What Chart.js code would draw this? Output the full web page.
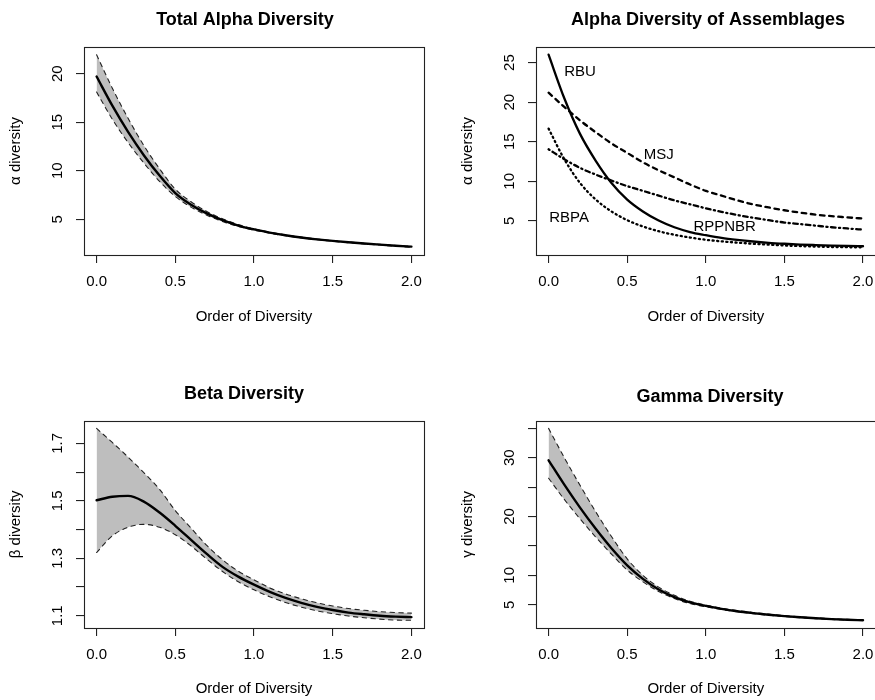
<!DOCTYPE html>
<html>
<head>
<meta charset="utf-8">
<script src="https://cdn.jsdelivr.net/npm/chart.js@4.4.1/dist/chart.umd.min.js"></script>
<style>
html,body{margin:0;padding:0;background:#fff;width:875px;height:700px;overflow:hidden;position:relative}
canvas{position:absolute;display:block}
</style>
</head>
<body>
<canvas id="c1" width="490" height="340" style="left:0px;top:0px"></canvas>
<canvas id="c2" width="536" height="340" style="left:440px;top:0px"></canvas>
<canvas id="c3" width="488" height="350" style="left:0px;top:350px"></canvas>
<canvas id="c4" width="540" height="350" style="left:440px;top:350px"></canvas>
<script>
// ---------- data ----------
const orderQ = [0.0,0.1,0.2,0.3,0.4,0.5,0.6,0.7,0.8,0.9,1.0,1.1,1.2,1.3,1.4,1.5,1.6,1.7,1.8,1.9,2.0];
const xTickValues = [0, 0.5, 1, 1.5, 2];
const xTickLabels = ['0.0','0.5','1.0','1.5','2.0'];

// Total alpha diversity
const alphaTotal      = [19.7,16.7,14.0,11.6,9.5,7.7,6.5,5.6,4.9,4.35,3.95,3.62,3.35,3.12,2.93,2.77,2.63,2.5,2.38,2.27,2.18];
const alphaTotalUpper = [21.95,18.5,15.4,12.6,10.2,8.1,6.8,5.8,5.05,4.45,4.02,3.68,3.4,3.16,2.97,2.8,2.66,2.53,2.41,2.3,2.22];
const alphaTotalLower = [18.1,15.3,12.9,10.8,8.9,7.35,6.25,5.42,4.77,4.26,3.88,3.56,3.3,3.08,2.89,2.73,2.59,2.46,2.34,2.22,2.11];
const alphaYTicks = [5,10,15,20];
const alphaYTickLabels = ['5','10','15','20'];

// Alpha diversity of assemblages
const assemblageNames = ['RBU','MSJ','RPPNBR','RBPA'];
const alphaRBU    = [26.0,20.5,16.0,12.6,9.8,7.7,6.2,5.05,4.2,3.6,3.2,2.85,2.6,2.4,2.24,2.12,2.02,1.95,1.89,1.84,1.8];
const alphaMSJ    = [21.2,19.4,17.7,16.2,14.8,13.6,12.4,11.4,10.5,9.6,8.8,8.2,7.6,7.1,6.7,6.35,6.05,5.8,5.6,5.45,5.3];
const alphaRPPNBR = [14.05,12.8,11.7,10.85,10.1,9.4,8.8,8.2,7.6,7.1,6.6,6.15,5.75,5.4,5.1,4.8,4.6,4.4,4.2,4.05,3.9];
const alphaRBPA   = [16.66,12.8,9.8,7.7,6.2,5.1,4.3,3.7,3.25,2.9,2.62,2.42,2.26,2.12,2.0,1.9,1.82,1.76,1.71,1.68,1.67];
const assemblageLabelX = [0.2, 0.7, 1.12, 0.13];
const assemblageLabelY = [23.8, 13.4, 4.3, 5.4];
const assemblageYTicks = [5,10,15,20,25];
const assemblageYTickLabels = ['5','10','15','20','25'];

// Beta diversity
const betaMain  = [1.502,1.514,1.517,1.497,1.459,1.413,1.364,1.315,1.27,1.236,1.208,1.183,1.162,1.145,1.131,1.12,1.111,1.105,1.1,1.097,1.095];
const betaUpper = [1.752,1.703,1.652,1.598,1.54,1.466,1.405,1.345,1.295,1.255,1.225,1.197,1.176,1.159,1.145,1.134,1.125,1.119,1.114,1.111,1.109];
const betaLower = [1.32,1.378,1.408,1.418,1.408,1.382,1.343,1.297,1.254,1.218,1.19,1.166,1.146,1.13,1.117,1.107,1.099,1.093,1.088,1.085,1.084];
const betaYTicks = [1.1,1.2,1.3,1.4,1.5,1.6,1.7];
const betaYTickLabels = ['1.1','','1.3','','1.5','','1.7'];

// Gamma diversity
const gammaMain  = [29.55,25.4,21.5,17.9,14.6,11.7,9.4,7.6,6.3,5.4,4.8,4.3,3.9,3.58,3.3,3.07,2.87,2.7,2.56,2.45,2.36];
const gammaUpper = [34.97,30.0,25.3,20.8,16.6,12.8,10.0,8.0,6.6,5.6,4.95,4.43,4.02,3.69,3.4,3.16,2.95,2.78,2.63,2.51,2.42];
const gammaLower = [26.5,22.9,19.6,16.5,13.6,10.9,8.9,7.25,6.05,5.2,4.65,4.18,3.8,3.48,3.21,2.99,2.8,2.64,2.5,2.4,2.355];
const gammaYTicks = [5,10,15,20,25,30,35];
const gammaYTickLabels = ['5','10','','20','','30',''];

// ---------- helpers ----------
const FONT = "'Liberation Sans', Arial, Helvetica, sans-serif";
Chart.defaults.font.family = FONT;
Chart.defaults.color = '#000';

function pts(ys){ return orderQ.map((q,i)=>({x:q, y:ys[i]})); }
function rRange(arrs){
  const all = [].concat(...arrs);
  const lo = Math.min(...all), hi = Math.max(...all);
  const e = 0.04*(hi-lo);
  return [lo-e, hi+e];
}
const BAND = '#bebebe';

function mainDs(ys){ return {data:pts(ys), borderColor:'#000', borderWidth:2.4, pointRadius:0, fill:false, cubicInterpolationMode:'monotone', borderCapStyle:'round', borderJoinStyle:'round'}; }
function bandUpper(ys){ return {data:pts(ys), borderColor:'#222', borderWidth:1.1, borderDash:[4.4,4.4], borderCapStyle:'round', pointRadius:0, fill:'+1', backgroundColor:BAND, cubicInterpolationMode:'monotone'}; }
function bandLower(ys){ return {data:pts(ys), borderColor:'#222', borderWidth:1.1, borderDash:[4.4,4.4], borderCapStyle:'round', pointRadius:0, fill:false, cubicInterpolationMode:'monotone'}; }

const boxPlugin = {
  id:'rbox',
  afterDatasetsDraw(chart){
    const a = chart.chartArea, ctx = chart.ctx;
    ctx.save();
    ctx.strokeStyle = '#222'; ctx.lineWidth = 1.1;
    const l = Math.round(a.left)+0.5, t = Math.round(a.top)+0.5;
    ctx.strokeRect(l, t, Math.round(a.right)-Math.round(a.left), Math.round(a.bottom)-Math.round(a.top));
    ctx.restore();
  }
};

function makeLabelPlugin(names, xs, ys){
  return {
    id:'curveLabels',
    afterDatasetsDraw(chart){
      const ctx = chart.ctx, sx = chart.scales.x, sy = chart.scales.y;
      ctx.save();
      ctx.font = '15px ' + FONT;
      ctx.fillStyle = '#000'; ctx.textAlign = 'center'; ctx.textBaseline = 'middle';
      names.forEach((n,i)=>ctx.fillText(n, sx.getPixelForValue(xs[i]), sy.getPixelForValue(ys[i])));
      ctx.restore();
    }
  };
}

function makePanel(g){
  const yr = rRange(g.rangeArrays);
  const plugins = [boxPlugin];
  if (g.extraPlugin) plugins.push(g.extraPlugin);
  return new Chart(document.getElementById(g.id), {
    type:'line',
    data:{datasets:g.datasets},
    plugins:plugins,
    options:{
      responsive:false, animation:false, events:[],
      layout:{padding:0},
      plugins:{
        legend:{display:false}, tooltip:{enabled:false},
        filler:{drawTime:'beforeDatasetsDraw'},
        title:{display:true, text:g.title, color:'#000', font:{size:18, weight:'bold', family:FONT}, padding:g.titlePad}
      },
      scales:{
        x:{
          type:'linear', min:-0.08, max:2.08,
          afterBuildTicks:(s)=>{ s.ticks = xTickValues.map(v=>({value:v})); },
          afterFit:(s)=>{ s.height = g.xAxisHeight; },
          ticks:{autoSkip:false, maxRotation:0, minRotation:0, padding:9.5, font:{size:15}, color:'#000',
                 callback:(v,i)=>xTickLabels[i]},
          grid:{display:true, drawOnChartArea:false, drawTicks:true, tickLength:8, color:'#222', lineWidth:1.1},
          border:{display:false},
          title:{display:true, text:'Order of Diversity', font:{size:15}, color:'#000', padding:{top:0,bottom:g.xTitlePadBottom}}
        },
        y:{
          type:'linear', min:yr[0], max:yr[1],
          afterBuildTicks:(s)=>{ s.ticks = g.yTicks.map(v=>({value:v})); },
          afterFit:(s)=>{ s.width = g.yAxisWidth; },
          ticks:{autoSkip:false, minRotation:90, maxRotation:90, crossAlign:'center', padding:g.yTickPad, font:{size:15}, color:'#000',
                 callback:(v,i)=>g.yTickLabels[i]},
          grid:{display:true, drawOnChartArea:false, drawTicks:true, tickLength:8, color:'#222', lineWidth:1.1},
          border:{display:false},
          title:{display:true, text:g.yTitle, font:{size:15}, color:'#000', padding:{top:g.yTitlePadTop,bottom:0}}
        },
        // empty right margin of the figure cell
        margin:{
          type:'linear', position:'right', display:true, min:0, max:1,
          afterFit:(s)=>{ s.width = g.padRight; },
          ticks:{display:false}, grid:{display:false, drawTicks:false}, border:{display:false}, title:{display:false}
        }
      }
    }
  });
}

// ---------- panels ----------
makePanel({
  id:'c1', title:'Total Alpha Diversity', yTitle:'\u03B1 diversity',
  datasets:[mainDs(alphaTotal), bandUpper(alphaTotalUpper), bandLower(alphaTotalLower)],
  rangeArrays:[alphaTotal, alphaTotalUpper, alphaTotalLower],
  yTicks:alphaYTicks, yTickLabels:alphaYTickLabels,
  padRight:66, yAxisWidth:84, xAxisHeight:85,
  titlePad:{top:9.2,bottom:16.2}, yTitlePadTop:7.3, yTickPad:9.9, xTitlePadBottom:14
});

makePanel({
  id:'c2', title:'Alpha Diversity of Assemblages', yTitle:'\u03B1 diversity',
  datasets:[
    {data:pts(alphaRBU), borderColor:'#000', borderWidth:2.3, pointRadius:0, fill:false, cubicInterpolationMode:'monotone', borderCapStyle:'round'},
    {data:pts(alphaMSJ), borderColor:'#000', borderWidth:2.3, borderDash:[4.6,4.6], pointRadius:0, fill:false, cubicInterpolationMode:'monotone', borderCapStyle:'round'},
    {data:pts(alphaRPPNBR), borderColor:'#000', borderWidth:2.3, borderDash:[1.15,3.45,4.6,3.45], pointRadius:0, fill:false, cubicInterpolationMode:'monotone', borderCapStyle:'round'},
    {data:pts(alphaRBPA), borderColor:'#000', borderWidth:2.3, borderDash:[1.15,3.45], pointRadius:0, fill:false, cubicInterpolationMode:'monotone', borderCapStyle:'round'}
  ],
  rangeArrays:[alphaRBU, alphaMSJ, alphaRPPNBR, alphaRBPA],
  yTicks:assemblageYTicks, yTickLabels:assemblageYTickLabels,
  padRight:100.4, yAxisWidth:96, xAxisHeight:85,
  titlePad:{top:9.2,bottom:16.2}, yTitlePadTop:19, yTickPad:9.9, xTitlePadBottom:14,
  extraPlugin:makeLabelPlugin(assemblageNames, assemblageLabelX, assemblageLabelY)
});

makePanel({
  id:'c3', title:'Beta Diversity', yTitle:'\u03B2 diversity',
  datasets:[mainDs(betaMain), bandUpper(betaUpper), bandLower(betaLower)],
  rangeArrays:[betaMain, betaUpper, betaLower],
  yTicks:betaYTicks, yTickLabels:betaYTickLabels,
  padRight:64, yAxisWidth:84, xAxisHeight:72,
  titlePad:{top:33.2,bottom:15.9}, yTitlePadTop:7.3, yTickPad:7.8, xTitlePadBottom:2
});

makePanel({
  id:'c4', title:'Gamma Diversity', yTitle:'\u03B3 diversity',
  datasets:[mainDs(gammaMain), bandUpper(gammaUpper), bandLower(gammaLower)],
  rangeArrays:[gammaMain, gammaUpper, gammaLower],
  yTicks:gammaYTicks, yTickLabels:gammaYTickLabels,
  padRight:104.4, yAxisWidth:96, xAxisHeight:72,
  titlePad:{top:35.9,bottom:13.2}, yTitlePadTop:19, yTickPad:9.9, xTitlePadBottom:2
});
</script>
</body>
</html>
